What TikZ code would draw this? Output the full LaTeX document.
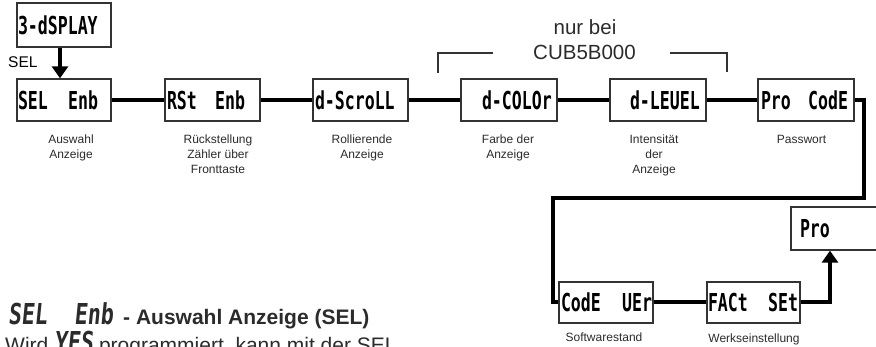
\documentclass[tikz,border=0pt]{standalone}
\usepackage{fontspec}
\setmainfont{Liberation Sans}
\newfontfamily\dispfont[FakeStretch=0.67]{DejaVu Sans Mono Bold}
\newfontfamily\dispitfont[FakeStretch=0.75,FakeSlant=0.1]{DejaVu Sans Mono Bold}
\usetikzlibrary{arrows.meta}
\definecolor{boxgray}{HTML}{333333}
\definecolor{txtgray}{HTML}{2B2B2B}
\newcommand{\lcdtext}[4]{\makebox[#1pt][l]{\hspace*{#2pt}\makebox[#3pt][l]{#4}}}
\tikzset{
  lcdbox/.style={draw=boxgray, line width=1.3pt, inner sep=0pt, minimum height=42pt,
    font=\dispfont\fontsize{24.7}{26}\selectfont},
  conn/.style={line width=4pt, draw=black},
  bigarrow/.style={-{Triangle[width=16pt,length=12pt]}},
  lbl/.style={anchor=north, inner sep=0pt, align=center, text=txtgray,
    font=\fontsize{12}{15}\selectfont},
  thinline/.style={line width=1.3pt, draw=boxgray},
  bigtxt/.style={inner sep=0pt, anchor=base, text=txtgray, font=\fontsize{20.5}{25}\selectfont}
}
\begin{document}
\begin{tikzpicture}[x=1pt,y=-1pt]
\useasboundingbox (0,0) rectangle (876,347);

% boxes
\node[lcdbox, minimum width=94pt, minimum height=44pt] (disp) at (64,25) {\lcdtext{94}{1}{82}{3-dSPLAY}};
\node[lcdbox, minimum width=94pt] (sel) at (64,100) {\lcdtext{94}{1}{80}{SEL\hfill Enb}};
\node[lcdbox, minimum width=95pt] (rst) at (212.5,100) {\lcdtext{95}{2}{78}{RSt\hfill Enb}};
\node[lcdbox, minimum width=95pt] (scroll) at (360.5,100) {\lcdtext{95}{2}{80}{d-ScroLL}};
\node[lcdbox, minimum width=96pt] (color) at (509,100) {\lcdtext{96}{21}{70}{d-COLOr}};
\node[lcdbox, minimum width=96pt] (level) at (658,100) {\lcdtext{96}{20}{69}{d-LEUEL}};
\node[lcdbox, minimum width=96pt] (procode) at (806,100) {\lcdtext{96}{3}{87}{Pro\hfill CodE}};
\node[lcdbox, minimum width=94pt, minimum height=41pt] (codever) at (606,302.5) {\lcdtext{94}{2}{91}{CodE\hfill UEr}};
\node[lcdbox, minimum width=93pt, minimum height=41pt] (fact) at (753.5,302.5) {\lcdtext{93}{1}{90}{FACt\hfill SEt}};
\node[lcdbox, minimum width=89pt, minimum height=43pt] (pro) at (835.5,228.5) {\lcdtext{89}{9}{30}{Pro}};

% SEL arrow
\coordinate (ax) at (60,0);
\draw[conn, bigarrow] (disp.south -| ax) -- (sel.north -| ax);
\node[anchor=base west, inner sep=0pt, text=black, font=\fontsize{15.5}{18}\selectfont] (sellbl) at (8,68) {SEL};

% horizontal chain
\draw[conn] (sel.east) -- (rst.west);
\draw[conn] (rst.east) -- (scroll.west);
\draw[conn] (scroll.east) -- (color.west);
\draw[conn] (color.east) -- (level.west);
\draw[conn] (level.east) -- (procode.west);

% route down to second row
\coordinate (r1) at (864,198);
\coordinate (l1) at (553,198);
\draw[conn] (procode.east) -| (r1) -- (l1) |- (codever.west);
\draw[conn] (codever.east) -- (fact.west);
\coordinate (px) at (830,0);
\draw[conn, bigarrow] (fact.east) -| (px |- pro.south);

% labels
\node[lbl] (l-sel) at (71,135) {Auswahl\\Anzeige};
\node[lbl] (l-rst) at (218,135) {Rückstellung\\Zähler über\\Fronttaste};
\node[lbl] (l-scroll) at (362,135) {Rollierende\\Anzeige};
\node[lbl] (l-color) at (508,135) {Farbe der\\Anzeige};
\node[lbl] (l-level) at (654,135) {Intensität\\der\\Anzeige};
\node[lbl] (l-pro) at (801.5,135) {Passwort};
\node[lbl] (l-code) at (604,333) {Softwarestand};
\node[lbl] (l-fact) at (754,334) {Werkseinstellung};

% nur bei bracket
\node[bigtxt] (nur1) at (585,35) {nur bei};
\node[bigtxt] (nur2) at (584.5,60) {CUB5B000};
\coordinate (b1) at (438,73);
\coordinate (b2) at (438,53);
\coordinate (b3) at (493,53);
\coordinate (b4) at (670,53);
\coordinate (b5) at (727,53);
\coordinate (b6) at (727,72);
\draw[thinline] (b1) -- (b2) -- (b3);
\draw[thinline] (b4) -- (b5) -- (b6);

% bottom text
\node[anchor=base west, inner sep=0pt, text=txtgray, font=\dispitfont\fontsize{28.8}{30}\selectfont] (h1) at (8,325) {\makebox[105pt][l]{SEL\hfill Enb}};
\node[anchor=base west, inner sep=0pt, text=txtgray, font=\bfseries\fontsize{21}{25}\selectfont] (h2) at (123,325) {- Auswahl Anzeige (SEL)};
\node[anchor=base west, inner sep=0pt, text=txtgray, font=\fontsize{21}{25}\selectfont] (h3) at (5,353) {Wird {\dispitfont\fontsize{28.8}{30}\selectfont YES} programmiert, kann mit der SEL};
\end{tikzpicture}
\end{document}
